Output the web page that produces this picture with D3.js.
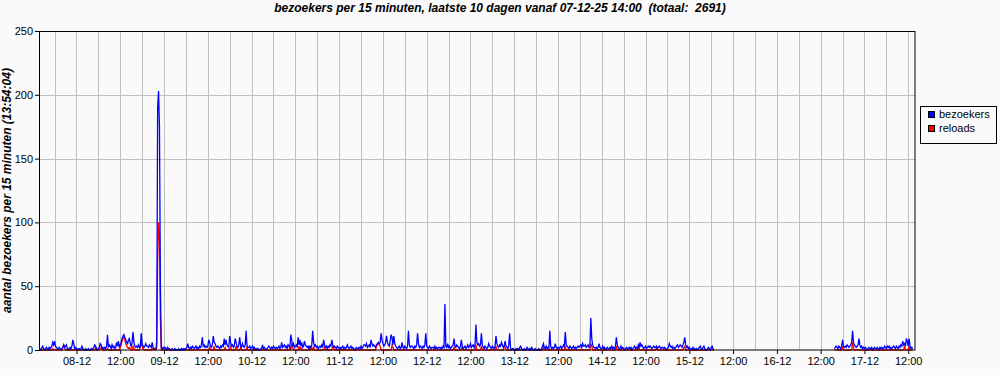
<!DOCTYPE html>
<html>
<head>
<meta charset="utf-8">
<script src="https://cdn.jsdelivr.net/npm/d3@7"></script>
<style>
  body { margin: 0; background: #fafafa; }
  svg { display: block; font-family: "Liberation Sans", Arial, sans-serif; }
  .title { font-size: 12px; font-weight: bold; font-style: italic; white-space: pre; }
  .tick text { font-size: 11px; fill: #000; }
  .tick line { stroke: #000; }
  .legend text { font-size: 11px; fill: #000; }
</style>
</head>
<body>
<div id="chart"></div>
<script>
// 15-minute slots starting 07-12-25 14:00, 960 slots (10 days)
const startTime = new Date(2025, 11, 7, 14, 0);
const slotMinutes = 15;
const slotCount = 960;

const bezoekers = [
  1,0,2,3,1,0,1,2,1,0,
  2,1,2,3,6,4,7,3,2,1,
  1,2,1,0,1,2,4,2,3,4,
  1,1,0,2,1,3,8,5,1,2,
  1,0,1,1,0,1,3,1,0,0,
  1,0,0,1,0,0,1,0,1,2,
  4,3,1,0,1,2,5,4,1,2,
  1,2,1,3,12,2,4,3,1,4,
  2,3,1,2,6,3,7,2,4,6,
  9,11,12,10,8,6,5,8,9,5,
  3,6,14,6,3,2,3,2,4,2,
  3,13,5,3,2,3,5,3,3,2,
  4,3,2,6,2,1,1,1,6,190,
  203,175,50,2,1,2,1,2,1,0,
  2,1,1,0,0,1,0,0,1,0,
  0,0,1,0,0,1,0,1,0,1,
  1,2,5,2,1,2,1,3,2,1,
  2,3,1,2,1,3,2,4,10,3,
  4,2,3,2,3,8,6,3,2,4,
  11,6,5,3,2,3,2,1,3,2,
  4,3,9,4,8,4,3,2,11,6,
  3,4,2,3,9,6,3,2,4,10,
  3,2,5,3,2,4,15,3,2,2,
  3,1,2,3,1,2,0,1,0,1,
  0,0,1,1,4,1,2,1,0,1,
  2,3,2,1,2,1,3,2,1,2,
  1,2,3,1,2,6,2,3,4,2,
  3,1,4,3,2,12,8,3,5,2,
  3,4,2,10,4,8,3,6,2,3,
  7,4,3,2,3,1,3,2,4,15,
  6,3,4,2,3,1,2,3,2,4,
  2,8,4,2,3,1,3,2,4,3,
  8,4,2,3,2,1,3,2,1,2,
  1,2,3,1,2,1,2,4,2,1,
  2,3,1,2,1,0,1,2,1,1,
  2,1,3,1,2,4,4,3,5,2,
  3,4,2,8,5,3,4,3,2,4,
  5,6,5,6,13,8,5,3,4,6,
  11,6,4,3,7,12,10,4,11,5,
  3,2,1,2,3,1,2,6,2,1,
  3,2,1,3,15,4,2,3,3,2,
  1,3,2,4,13,5,2,3,2,1,
  3,2,4,13,3,2,1,3,2,1,
  2,2,1,3,1,2,1,2,2,1,
  2,1,3,2,36,3,2,5,2,3,
  1,2,3,4,9,3,2,4,3,2,
  1,3,8,3,1,2,3,1,2,4,
  2,3,5,2,3,4,2,4,20,6,
  4,5,3,4,13,4,2,1,3,2,
  1,2,5,3,2,1,3,2,1,3,
  11,5,3,2,4,3,6,4,2,3,
  7,3,2,1,4,13,1,0,1,1,
  0,0,1,0,1,0,2,3,1,0,
  0,1,0,0,2,1,0,1,0,2,
  1,0,0,1,0,0,0,1,0,0,
  1,3,5,2,1,3,1,2,1,15,
  3,1,2,1,2,5,2,1,2,1,
  2,3,1,2,4,3,14,4,3,2,
  1,3,2,1,2,3,1,2,1,2,
  3,2,3,4,2,5,3,3,4,2,
  3,4,2,3,25,9,4,2,2,1,
  2,1,2,5,2,1,1,3,1,2,
  0,1,2,1,1,2,1,3,1,2,
  1,3,10,4,2,1,1,3,1,2,
  1,0,1,2,1,1,2,1,2,0,
  1,2,3,1,2,1,4,2,6,3,
  4,2,1,2,3,1,2,3,2,3,
  2,1,2,3,2,2,3,1,2,3,
  2,1,2,2,1,2,1,0,1,2,
  5,3,2,3,1,2,1,2,3,4,
  2,3,4,3,2,4,6,10,4,2,
  3,1,2,1,0,1,2,0,1,0,
  1,0,1,2,3,1,0,2,3,1,
  0,0,1,2,1,0,2,3,1,0,
  null,null,null,null,null,null,null,null,null,null,
  null,null,null,null,null,null,null,null,null,null,
  null,null,null,null,null,null,null,null,null,null,
  null,null,null,null,null,null,null,null,null,null,
  null,null,null,null,null,null,null,null,null,null,
  null,null,null,null,null,null,null,null,null,null,
  null,null,null,null,null,null,null,null,null,null,
  null,null,null,null,null,null,null,null,null,null,
  null,null,null,null,null,null,null,null,null,null,
  null,null,null,null,null,null,null,null,null,null,
  null,null,null,null,null,null,null,null,null,null,
  null,null,null,null,null,null,null,null,null,null,
  null,null,null,null,null,null,null,null,null,null,
  null,1,2,3,2,1,3,2,1,3,
  8,3,2,3,2,4,3,2,3,4,
  6,15,6,4,3,2,3,4,9,4,
  2,3,1,2,1,2,1,0,1,2,
  1,1,2,0,1,2,1,1,2,1,
  0,2,1,2,1,1,3,2,1,3,
  2,3,1,2,1,2,3,2,1,3,
  2,1,3,2,4,3,7,4,5,3,
  9,7,3,9,3,1,2,1,null,null
];

const reloads = [
  0,0,0,0,0,0,0,0,0,0,
  0,0,0,0,1,0,0,0,0,0,
  0,0,0,0,0,2,4,2,0,0,
  0,0,0,0,0,0,0,0,0,0,
  0,0,0,0,0,0,0,0,0,0,
  0,0,0,0,0,0,0,0,0,0,
  0,2,0,0,0,0,1,2,1,0,
  0,0,0,0,1,0,0,0,0,0,
  0,0,0,0,0,0,0,0,2,4,
  7,9,10,8,5,3,2,1,2,1,
  0,0,3,1,0,0,0,0,0,0,
  2,6,3,1,0,0,0,0,0,0,
  0,0,0,1,0,1,0,0,2,70,
  100,90,25,0,0,0,0,0,0,0,
  0,0,0,0,0,0,0,0,0,0,
  0,0,0,0,0,0,0,0,0,0,
  0,0,0,0,0,0,0,0,0,0,
  0,0,0,0,0,0,0,0,0,0,
  0,0,0,0,0,0,2,0,0,0,
  0,3,0,0,0,0,0,0,0,0,
  0,0,0,2,0,0,0,0,0,2,
  0,0,0,0,0,3,0,0,0,0,
  2,0,0,0,0,0,0,2,0,0,
  0,0,0,0,0,0,0,0,0,0,
  0,0,0,0,0,0,0,0,0,0,
  0,0,0,0,0,0,0,0,0,0,
  0,0,0,0,0,0,0,0,0,0,
  0,0,0,0,2,0,4,2,0,0,
  0,0,0,0,3,0,2,0,0,0,
  0,0,0,0,0,0,3,0,2,0,
  2,0,0,0,0,0,0,0,0,0,
  0,0,2,0,0,0,0,0,0,0,
  0,3,2,0,0,0,0,0,0,0,
  1,0,0,0,0,0,0,0,0,0,
  0,0,0,0,0,0,0,0,0,0,
  0,0,0,0,0,0,0,0,0,0,
  0,0,0,0,0,0,0,0,0,3,
  4,5,4,3,0,0,0,0,0,0,
  0,0,0,0,0,0,4,2,0,0,
  0,0,0,0,0,0,0,0,0,0,
  0,0,0,0,0,0,0,0,0,0,
  0,0,0,0,0,0,0,0,0,0,
  0,0,0,0,0,0,0,0,0,0,
  0,0,0,0,0,0,0,0,0,0,
  0,0,0,0,0,0,0,0,0,0,
  0,0,0,0,2,0,0,0,0,0,
  0,0,0,3,0,0,0,0,0,0,
  0,0,0,0,0,0,0,0,4,0,
  0,0,0,0,3,0,0,0,0,0,
  0,0,0,0,0,0,0,0,0,0,
  3,0,0,0,0,0,0,0,0,3,
  2,0,0,0,0,0,0,0,0,0,
  0,0,0,0,0,0,0,0,0,0,
  0,0,0,0,0,0,0,0,0,0,
  0,0,0,0,0,0,0,0,0,0,
  0,0,2,0,0,0,0,0,0,0,
  0,0,0,0,0,0,0,0,0,0,
  0,0,0,0,0,0,3,0,0,0,
  0,0,0,0,0,0,0,0,0,0,
  0,0,0,0,0,0,0,0,0,0,
  0,0,0,0,5,3,0,0,0,0,
  0,0,0,0,0,0,0,0,0,0,
  0,0,0,0,0,0,0,0,0,0,
  0,0,3,0,0,0,0,0,0,0,
  0,0,0,0,0,0,0,0,0,0,
  0,0,0,0,0,0,2,0,0,0,
  0,0,0,0,0,0,0,0,0,0,
  0,0,0,0,0,0,2,0,0,0,
  0,0,0,0,0,0,0,0,0,0,
  0,0,0,0,0,0,0,0,0,0,
  0,0,0,0,0,0,2,3,0,0,
  0,0,0,0,0,0,0,0,0,0,
  0,0,0,0,0,0,0,0,0,0,
  0,0,0,0,0,0,0,0,0,0,
  null,null,null,null,null,null,null,null,null,null,
  null,null,null,null,null,null,null,null,null,null,
  null,null,null,null,null,null,null,null,null,null,
  null,null,null,null,null,null,null,null,null,null,
  null,null,null,null,null,null,null,null,null,null,
  null,null,null,null,null,null,null,null,null,null,
  null,null,null,null,null,null,null,null,null,null,
  null,null,null,null,null,null,null,null,null,null,
  null,null,null,null,null,null,null,null,null,null,
  null,null,null,null,null,null,null,null,null,null,
  null,null,null,null,null,null,null,null,null,null,
  null,null,null,null,null,null,null,null,null,null,
  null,null,null,null,null,null,null,null,null,null,
  null,0,0,0,0,0,0,0,0,0,
  3,0,0,0,0,0,0,0,0,0,
  0,6,2,0,0,0,0,0,0,0,
  0,0,0,0,0,0,0,0,0,0,
  0,0,0,0,0,0,0,0,0,0,
  0,0,0,0,0,0,0,0,0,0,
  0,0,0,0,0,0,0,0,0,0,
  0,0,0,0,0,0,0,0,3,0,
  0,0,0,3,0,0,0,0,null,null
];

const yTicks = [0, 50, 100, 150, 200, 250];
const seriesNames = ["bezoekers", "reloads"];
const seriesColors = ["#0000ff", "#ff0000"];
const titleText = "bezoekers per 15 minuten, laatste 10 dagen vanaf 07-12-25 14:00  (totaal:  2691)";
const yLabelText = "aantal bezoekers per 15 minuten (13:54:04)";

const W = 1000, H = 375;
const margin = { top: 31, right: 84.5, bottom: 25, left: 40 };
const plot_w = W - margin.left - margin.right;
const plot_h = H - margin.top - margin.bottom;

const endTime = new Date(+startTime + slotCount * slotMinutes * 60000);
const rows = bezoekers.map((v, i) => ({
  t: new Date(+startTime + i * slotMinutes * 60000),
  b: v,
  r: reloads[i]
}));

const svg = d3.select("#chart").append("svg")
  .attr("width", W)
  .attr("height", H);

svg.append("rect").attr("width", W).attr("height", H).attr("fill", "#fafafa");

const g = svg.append("g")
  .attr("transform", `translate(${margin.left},${margin.top})`);

const x = d3.scaleTime().domain([startTime, endTime]).range([0, plot_w]);
const y = d3.scaleLinear().domain([0, 250]).range([plot_h, 0]);

// grid
const px = v => Math.round(v) + 0.5;
g.append("g").selectAll("line")
  .data(d3.timeHour.every(6).range(startTime, endTime))
  .join("line")
  .attr("x1", d => px(x(d))).attr("x2", d => px(x(d)))
  .attr("y1", 0).attr("y2", plot_h)
  .attr("stroke", "#c0c0c0");

g.append("g").selectAll("line")
  .data(yTicks.slice(1, -1))
  .join("line")
  .attr("x1", 0).attr("x2", plot_w)
  .attr("y1", d => px(y(d))).attr("y2", d => px(y(d)))
  .attr("stroke", "#c0c0c0");

// axes
const labelTimes = d3.timeHour.every(12).range(startTime, endTime);
const fmtDay = d3.timeFormat("%d-%m"), fmtHour = d3.timeFormat("%H:%M");

g.append("g")
  .attr("transform", `translate(0,${plot_h})`)
  .call(d3.axisBottom(x).tickValues(labelTimes).tickSize(4).tickPadding(3)
    .tickFormat(d => d.getHours() === 0 ? fmtDay(d) : fmtHour(d)))
  .call(a => a.select(".domain").remove());

g.append("g")
  .call(d3.axisLeft(y).tickValues(yTicks).tickSize(5).tickPadding(2))
  .call(a => a.select(".domain").remove());

// series
g.append("clipPath").attr("id", "clip")
  .append("rect").attr("width", plot_w).attr("height", plot_h + 1);

const line = key => d3.line()
  .defined(d => d[key] != null)
  .x(d => x(d.t))
  .y(d => y(d[key]));

g.append("path")
  .datum(rows)
  .attr("clip-path", "url(#clip)")
  .attr("fill", "none")
  .attr("stroke", seriesColors[1])
  .attr("stroke-width", 1.3)
  .attr("d", line("r"));

g.append("path")
  .datum(rows)
  .attr("clip-path", "url(#clip)")
  .attr("fill", "none")
  .attr("stroke", seriesColors[0])
  .attr("stroke-width", 1.3)
  .attr("d", line("b"));

// frame
g.append("rect")
  .attr("x", -0.5).attr("y", 0.5)
  .attr("width", plot_w).attr("height", plot_h - 0.5)
  .attr("fill", "none")
  .attr("stroke", "#000");

// title
svg.append("text")
  .attr("class", "title")
  .attr("x", 500).attr("y", 12)
  .attr("text-anchor", "middle")
  .text(titleText);

svg.append("text")
  .attr("class", "title")
  .attr("transform", `translate(11,${margin.top + plot_h / 2}) rotate(-90)`)
  .attr("text-anchor", "middle")
  .text(yLabelText);

// legend
const legend = svg.append("g").attr("class", "legend")
  .attr("transform", "translate(920,106)");

legend.append("rect")
  .attr("x", 0.5).attr("y", 0.5)
  .attr("width", 76).attr("height", 37)
  .attr("fill", "none").attr("stroke", "#000");

const items = legend.selectAll("g.item")
  .data(seriesNames)
  .join("g")
  .attr("class", "item")
  .attr("transform", (d, i) => `translate(8,${5 + i * 14})`);

items.append("rect")
  .attr("x", 0.5).attr("y", 0.5)
  .attr("width", 6).attr("height", 6)
  .attr("fill", (d, i) => seriesColors[i])
  .attr("stroke", "#000");

items.append("text")
  .attr("x", 11).attr("y", 7)
  .text(d => d);
</script>
</body>
</html>
